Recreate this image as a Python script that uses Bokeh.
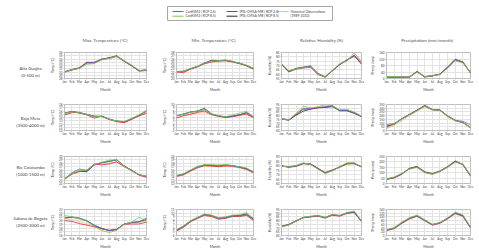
from bokeh.plotting import figure
from bokeh.layouts import row, column
from bokeh.models import Range1d, FixedTicker, Label
from bokeh.core.properties import value
from bokeh.embed import file_html
from bokeh.resources import INLINE

FONT = "Lato"
TEXT = "#404040"
GRID = "#e3e3e3"
FRAME = "#bfbfbf"

months = ["Jan", "Feb", "Mar", "Apr", "May", "Jun", "Jul", "Aug", "Sep", "Oct", "Nov", "Dec"]
scenarios = ["CanESM2 ( RCP 2.6)", "CanESM2 ( RCP 8.5)",
             "IPSL-CM5A-MR ( RCP 2.6)", "IPSL-CM5A-MR ( RCP 8.5)",
             "Historical Observations"]
hist_period = "(1989-2010)"
colors = ["#4f6fd6", "#77cc44", "#e8202a", "#262626", "#f7b98b"]
variables = ["Max. Temperature (\u00b0C)", "Min. Temperature (\u00b0C)",
             "Relative Humidity (%)", "Precipitation (mm/month)"]
y_labels = ["Temp (\u00b0C)", "Temp (\u00b0C)", "Humidity (%)", "Precip (mm)"]

# ---- Alta Guajira (0-500 m) ----
ag_tmax_can26 = [30.0, 30.6, 31.2, 32.8, 32.9, 33.9, 34.2, 34.8, 33.4, 32.0, 30.4, 30.7]
ag_tmax_can85 = [29.9, 30.7, 31.1, 32.4, 32.6, 33.8, 34.2, 34.9, 33.5, 32.1, 30.5, 30.6]
ag_tmax_ipsl26 = [30.1, 30.8, 31.3, 33.0, 33.0, 34.0, 34.3, 34.9, 33.3, 31.9, 30.3, 30.5]
ag_tmax_ipsl85 = [30.0, 30.7, 31.2, 32.9, 32.8, 33.9, 34.4, 35.0, 33.4, 32.0, 30.4, 30.6]
ag_tmax_hist = [29.8, 30.6, 31.3, 32.7, 32.9, 33.7, 34.1, 34.7, 33.2, 31.8, 30.2, 30.4]
ag_tmax_ticks = [28, 29, 30, 31, 32, 33, 34, 35, 36]

ag_tmin_can26 = [22.1, 22.3, 23.0, 23.7, 24.7, 25.2, 25.4, 25.6, 25.2, 24.7, 24.0, 23.0]
ag_tmin_can85 = [22.2, 22.2, 23.1, 23.8, 24.8, 25.3, 25.5, 25.7, 25.3, 24.7, 24.1, 23.1]
ag_tmin_ipsl26 = [22.0, 21.8, 22.9, 23.6, 24.6, 25.1, 25.4, 25.5, 25.1, 24.6, 23.9, 22.9]
ag_tmin_ipsl85 = [22.1, 22.2, 23.0, 23.7, 24.8, 25.6, 25.5, 25.6, 25.2, 24.7, 24.0, 23.1]
ag_tmin_hist = [21.9, 22.0, 22.8, 23.5, 24.5, 25.0, 25.0, 25.3, 25.0, 24.5, 23.8, 22.7]
ag_tmin_ticks = [20, 21, 22, 23, 24, 25, 26, 27, 28]

ag_rh_can26 = [71.5, 63.4, 66.3, 67.8, 69.8, 60.5, 56.8, 64.1, 71.5, 76.2, 81.7, 74.4]
ag_rh_can85 = [72.0, 64.0, 66.0, 67.5, 68.5, 60.0, 56.5, 64.5, 72.0, 75.0, 84.5, 75.0]
ag_rh_ipsl26 = [71.0, 62.5, 65.8, 67.0, 68.0, 59.5, 57.0, 64.0, 71.0, 76.5, 80.5, 72.5]
ag_rh_ipsl85 = [71.8, 63.0, 66.5, 68.0, 68.9, 60.8, 56.5, 63.8, 71.0, 76.0, 81.5, 71.5]
ag_rh_hist = [71.2, 63.8, 66.8, 68.3, 68.6, 61.0, 57.5, 64.6, 71.8, 76.8, 82.2, 73.8]
ag_rh_ticks = [55, 60, 65, 70, 75, 80, 85]

ag_pr_can26 = [10, 8, 8, 8, 42, 10, 16, 26, 68, 115, 99, 35]
ag_pr_can85 = [12, 11, 10, 9, 38, 12, 18, 24, 62, 108, 96, 38]
ag_pr_ipsl26 = [9, 7, 7, 9, 44, 9, 15, 27, 70, 118, 101, 33]
ag_pr_ipsl85 = [10, 8, 9, 8, 41, 11, 17, 26, 67, 116, 102, 36]
ag_pr_hist = [11, 9, 8, 10, 46, 13, 19, 28, 72, 120, 97, 34]
ag_pr_ticks = [0, 40, 80, 120, 160]

# ---- Bajo Meta (3500-4000 m) ----
bm_tmax_can26 = [15.3, 15.9, 15.5, 15.0, 14.4, 14.4, 13.5, 12.9, 12.7, 13.6, 14.7, 16.2]
bm_tmax_can85 = [15.2, 15.8, 15.4, 14.9, 14.3, 14.3, 13.4, 12.9, 12.8, 13.7, 14.8, 16.0]
bm_tmax_ipsl26 = [14.7, 15.5, 15.6, 14.8, 13.8, 14.5, 13.4, 12.7, 12.4, 13.4, 14.5, 15.3]
bm_tmax_ipsl85 = [15.3, 15.9, 15.4, 14.9, 14.4, 14.3, 13.5, 12.9, 12.6, 13.6, 14.7, 15.9]
bm_tmax_hist = [15.1, 15.7, 15.3, 14.8, 14.2, 14.2, 13.3, 12.8, 12.6, 13.5, 14.5, 15.3]
bm_tmax_ticks = [10, 11, 12, 13, 14, 15, 16, 17, 18]

bm_tmin_can26 = [6.5, 7.0, 7.6, 7.9, 8.5, 7.0, 6.5, 6.1, 6.4, 6.8, 7.5, 6.1]
bm_tmin_can85 = [6.6, 7.0, 7.6, 8.0, 8.4, 7.1, 6.6, 6.2, 6.8, 7.3, 7.9, 6.2]
bm_tmin_ipsl26 = [5.8, 6.6, 7.0, 7.6, 8.0, 6.9, 6.4, 6.0, 6.3, 6.7, 7.0, 6.0]
bm_tmin_ipsl85 = [6.5, 7.1, 7.7, 8.0, 8.8, 7.1, 6.5, 6.2, 6.4, 6.8, 7.5, 6.2]
bm_tmin_hist = [5.8, 6.4, 7.0, 7.3, 7.5, 6.8, 6.3, 5.9, 6.2, 6.6, 7.2, 5.9]
bm_tmin_ticks = [2, 3, 4, 5, 6, 7, 8, 9, 10]

bm_rh_can26 = [75.8, 74.0, 82.0, 89.8, 89.8, 91.0, 91.8, 92.6, 87.0, 87.0, 83.8, 79.0]
bm_rh_can85 = [76.0, 74.5, 83.0, 92.6, 90.5, 92.0, 94.5, 93.0, 88.0, 88.5, 85.0, 79.5]
bm_rh_ipsl26 = [75.5, 73.8, 81.0, 88.5, 89.0, 90.8, 91.5, 93.8, 86.5, 86.5, 83.0, 78.5]
bm_rh_ipsl85 = [75.9, 74.2, 80.5, 86.0, 88.8, 90.5, 91.0, 92.0, 86.8, 86.8, 83.5, 78.8]
bm_rh_hist = [75.6, 74.1, 82.5, 89.0, 89.5, 90.6, 92.2, 93.2, 87.5, 87.2, 84.2, 79.2]
bm_rh_ticks = [60, 65, 70, 75, 80, 85, 90, 95]

bm_pr_can26 = [78, 95, 156, 214, 272, 330, 280, 272, 194, 136, 124, 78]
bm_pr_can85 = [30, 90, 150, 210, 265, 325, 282, 270, 190, 132, 110, 40]
bm_pr_ipsl26 = [58, 86, 160, 218, 275, 340, 285, 278, 196, 138, 109, 39]
bm_pr_ipsl85 = [55, 84, 156, 214, 270, 332, 280, 272, 194, 134, 108, 42]
bm_pr_hist = [25, 70, 130, 200, 260, 320, 278, 268, 188, 130, 100, 30]
bm_pr_ticks = [0, 50, 100, 150, 200, 250, 300, 350]

# ---- Rio Catatumbo (1000-1500 m) ----
rc_tmax_can26 = [23.3, 25.2, 26.3, 25.9, 27.5, 28.1, 28.5, 29.0, 27.2, 25.9, 24.6, 24.2]
rc_tmax_can85 = [23.3, 24.9, 25.8, 26.0, 27.6, 28.3, 28.9, 29.1, 27.1, 25.8, 24.5, 24.2]
rc_tmax_ipsl26 = [23.2, 24.8, 25.6, 25.8, 27.8, 27.5, 27.8, 28.4, 27.0, 25.8, 24.5, 23.8]
rc_tmax_ipsl85 = [23.4, 24.9, 25.7, 25.5, 27.5, 28.2, 28.6, 29.0, 27.2, 25.9, 24.6, 24.1]
rc_tmax_hist = [23.2, 24.8, 25.5, 25.9, 27.8, 27.8, 28.0, 28.4, 27.1, 25.9, 24.5, 24.0]
rc_tmax_ticks = [22, 23, 24, 25, 26, 27, 28, 29, 30]

rc_tmin_can26 = [14.3, 14.8, 15.9, 16.9, 17.4, 17.4, 17.2, 17.4, 17.2, 16.9, 16.4, 15.4]
rc_tmin_can85 = [14.4, 14.9, 16.0, 17.0, 17.6, 17.6, 17.5, 17.6, 17.3, 17.0, 16.6, 15.5]
rc_tmin_ipsl26 = [14.1, 14.6, 15.7, 16.7, 17.3, 17.2, 17.0, 17.2, 17.1, 16.8, 16.2, 15.2]
rc_tmin_ipsl85 = [14.3, 14.8, 15.9, 17.0, 17.5, 17.3, 17.2, 17.5, 17.3, 16.9, 16.4, 15.4]
rc_tmin_hist = [14.0, 14.5, 15.6, 16.6, 17.1, 17.1, 16.9, 17.1, 16.9, 16.6, 16.1, 15.0]
rc_tmin_ticks = [12, 13, 14, 15, 16, 17, 18, 19, 20]

rc_rh_can26 = [79.4, 78.4, 79.4, 82.3, 81.3, 76.5, 71.6, 74.5, 78.4, 82.3, 82.3, 78.4]
rc_rh_can85 = [79.0, 78.8, 80.0, 83.0, 81.0, 76.0, 71.0, 74.0, 78.8, 83.0, 83.2, 78.0]
rc_rh_ipsl26 = [79.8, 78.0, 79.0, 82.0, 81.8, 77.0, 72.2, 75.0, 78.0, 81.8, 82.0, 78.8]
rc_rh_ipsl85 = [79.2, 78.5, 79.6, 82.5, 81.5, 76.8, 71.8, 74.8, 78.6, 82.0, 82.5, 78.6]
rc_rh_hist = [79.6, 78.2, 79.2, 82.1, 81.0, 76.2, 71.4, 74.2, 78.1, 82.6, 82.0, 78.2]
rc_rh_ticks = [60, 65, 70, 75, 80, 85, 90]

rc_pr_can26 = [40, 56, 89, 137, 153, 105, 89, 113, 153, 202, 177, 73]
rc_pr_can85 = [45, 60, 95, 132, 148, 100, 85, 110, 150, 196, 182, 78]
rc_pr_ipsl26 = [38, 52, 86, 140, 158, 108, 92, 116, 156, 208, 174, 70]
rc_pr_ipsl85 = [42, 55, 90, 138, 155, 104, 88, 112, 152, 204, 178, 74]
rc_pr_hist = [36, 50, 84, 142, 160, 110, 94, 118, 160, 210, 172, 68]
rc_pr_ticks = [0, 50, 100, 150, 200, 250]

# ---- Sabana de Bogota (2500-3000 m) ----
sb_tmax_can26 = [20.8, 21.0, 20.7, 20.0, 18.8, 17.9, 17.3, 17.6, 19.1, 19.5, 19.7, 20.7]
sb_tmax_can85 = [21.4, 21.0, 20.5, 19.8, 18.5, 17.3, 16.8, 17.4, 19.0, 19.6, 20.9, 20.0]
sb_tmax_ipsl26 = [20.0, 19.8, 19.2, 18.8, 18.3, 17.8, 17.4, 17.7, 19.0, 19.1, 19.1, 19.6]
sb_tmax_ipsl85 = [20.7, 20.9, 20.6, 19.9, 18.7, 17.9, 17.3, 17.6, 19.1, 19.5, 19.7, 20.3]
sb_tmax_hist = [20.5, 20.3, 19.8, 19.2, 18.6, 17.8, 17.4, 17.7, 19.0, 19.4, 19.6, 19.8]
sb_tmax_ticks = [16, 17, 18, 19, 20, 21, 22, 23]

sb_tmin_can26 = [5.4, 6.4, 7.9, 8.8, 9.6, 9.3, 8.6, 8.8, 9.3, 9.3, 9.6, 8.3]
sb_tmin_can85 = [5.6, 6.6, 8.0, 8.9, 9.8, 9.5, 8.8, 9.0, 9.5, 9.6, 10.2, 8.6]
sb_tmin_ipsl26 = [5.2, 6.2, 7.7, 8.6, 9.4, 9.1, 8.4, 8.6, 9.1, 9.1, 9.4, 8.0]
sb_tmin_ipsl85 = [5.4, 6.5, 7.9, 8.8, 9.7, 9.4, 8.7, 8.9, 9.3, 9.4, 9.8, 8.4]
sb_tmin_hist = [5.3, 6.3, 7.8, 8.7, 9.5, 9.2, 8.5, 8.7, 9.2, 9.2, 9.5, 8.2]
sb_tmin_ticks = [4, 5, 6, 7, 8, 9, 10, 11]

sb_rh_can26 = [72.0, 74.5, 79.3, 84.1, 85.3, 86.6, 84.1, 87.8, 86.6, 90.2, 91.4, 79.3]
sb_rh_can85 = [71.5, 74.0, 79.0, 84.5, 86.0, 87.0, 84.5, 88.5, 87.0, 91.0, 93.0, 80.0]
sb_rh_ipsl26 = [72.5, 75.0, 79.8, 83.8, 85.0, 86.0, 83.5, 87.2, 86.0, 89.8, 90.8, 78.8]
sb_rh_ipsl85 = [72.2, 74.6, 79.5, 84.3, 85.5, 86.8, 84.2, 88.0, 86.8, 90.5, 91.6, 79.5]
sb_rh_hist = [71.8, 74.2, 79.0, 83.9, 85.1, 86.3, 83.8, 87.5, 86.4, 90.0, 91.2, 79.0]
sb_rh_ticks = [60, 65, 70, 75, 80, 85, 90, 95]

sb_pr_can26 = [29, 39, 68, 92, 106, 82, 58, 68, 92, 121, 106, 43]
sb_pr_can85 = [32, 42, 72, 96, 110, 85, 60, 70, 95, 126, 112, 46]
sb_pr_ipsl26 = [27, 37, 65, 90, 104, 80, 56, 66, 90, 118, 104, 41]
sb_pr_ipsl85 = [30, 40, 69, 93, 107, 83, 59, 69, 93, 122, 107, 44]
sb_pr_hist = [26, 36, 64, 88, 102, 78, 55, 65, 89, 117, 102, 40]
sb_pr_ticks = [0, 20, 40, 60, 80, 100, 120, 140]

regions = [
    ("Alta Guajira", "(0-500 m)",
     [[ag_tmax_can26, ag_tmax_can85, ag_tmax_ipsl26, ag_tmax_ipsl85, ag_tmax_hist],
      [ag_tmin_can26, ag_tmin_can85, ag_tmin_ipsl26, ag_tmin_ipsl85, ag_tmin_hist],
      [ag_rh_can26, ag_rh_can85, ag_rh_ipsl26, ag_rh_ipsl85, ag_rh_hist],
      [ag_pr_can26, ag_pr_can85, ag_pr_ipsl26, ag_pr_ipsl85, ag_pr_hist]],
     [ag_tmax_ticks, ag_tmin_ticks, ag_rh_ticks, ag_pr_ticks]),
    ("Bajo Meta", "(3500-4000 m)",
     [[bm_tmax_can26, bm_tmax_can85, bm_tmax_ipsl26, bm_tmax_ipsl85, bm_tmax_hist],
      [bm_tmin_can26, bm_tmin_can85, bm_tmin_ipsl26, bm_tmin_ipsl85, bm_tmin_hist],
      [bm_rh_can26, bm_rh_can85, bm_rh_ipsl26, bm_rh_ipsl85, bm_rh_hist],
      [bm_pr_can26, bm_pr_can85, bm_pr_ipsl26, bm_pr_ipsl85, bm_pr_hist]],
     [bm_tmax_ticks, bm_tmin_ticks, bm_rh_ticks, bm_pr_ticks]),
    ("Rio Catatumbo", "(1000-1500 m)",
     [[rc_tmax_can26, rc_tmax_can85, rc_tmax_ipsl26, rc_tmax_ipsl85, rc_tmax_hist],
      [rc_tmin_can26, rc_tmin_can85, rc_tmin_ipsl26, rc_tmin_ipsl85, rc_tmin_hist],
      [rc_rh_can26, rc_rh_can85, rc_rh_ipsl26, rc_rh_ipsl85, rc_rh_hist],
      [rc_pr_can26, rc_pr_can85, rc_pr_ipsl26, rc_pr_ipsl85, rc_pr_hist]],
     [rc_tmax_ticks, rc_tmin_ticks, rc_rh_ticks, rc_pr_ticks]),
    ("Sabana de Bogota", "(2500-3000 m)",
     [[sb_tmax_can26, sb_tmax_can85, sb_tmax_ipsl26, sb_tmax_ipsl85, sb_tmax_hist],
      [sb_tmin_can26, sb_tmin_can85, sb_tmin_ipsl26, sb_tmin_ipsl85, sb_tmin_hist],
      [sb_rh_can26, sb_rh_can85, sb_rh_ipsl26, sb_rh_ipsl85, sb_rh_hist],
      [sb_pr_can26, sb_pr_can85, sb_pr_ipsl26, sb_pr_ipsl85, sb_pr_hist]],
     [sb_tmax_ticks, sb_tmin_ticks, sb_rh_ticks, sb_pr_ticks]),
]

# layout geometry (pixels)
LABEL_W = 48
HEADER_H = 45
col_w = [112, 105, 103, 111]
col_left = [15, 13, 16, 15]
col_right = [14, 12, 7, 9]
row_h = [50, 52, 53, 52]
row_top = [7, 9, 9, 9]
row_bottom = [16, 14, 13, 14]

month_pos = list(range(len(months)))


def make_panel(series, ticks, ylabel, r, c):
    p = figure(width=col_w[c], height=row_h[r], output_backend="svg", toolbar_location=None,
               x_range=Range1d(month_pos[0], month_pos[-1]),
               y_range=Range1d(ticks[0], ticks[-1]),
               min_border_left=col_left[c], min_border_right=col_right[c],
               min_border_top=row_top[r], min_border_bottom=row_bottom[r])
    p.background_fill_color = "white"
    p.border_fill_color = "white"
    p.outline_line_color = FRAME
    # observations underneath, then the model runs
    for k in [4, 3, 2, 0, 1]:
        p.line(month_pos, series[k], line_color=colors[k], line_width=0.8)

    p.xaxis.ticker = FixedTicker(ticks=month_pos)
    p.xaxis.major_label_overrides = {i: m for i, m in enumerate(months)}
    p.xaxis.axis_label = "Month"
    p.yaxis.ticker = FixedTicker(ticks=ticks)
    p.yaxis.axis_label = ylabel
    for ax in (p.xaxis[0], p.yaxis[0]):
        ax.major_label_text_font = FONT
        ax.major_label_text_font_size = "3px"
        ax.major_label_text_color = TEXT
        ax.axis_label_text_font = FONT
        ax.axis_label_text_font_size = "3.5px"
        ax.axis_label_text_font_style = "normal"
        ax.axis_label_text_color = TEXT
        ax.axis_label_standoff = 1
        ax.major_label_standoff = 1
        ax.major_tick_out = 1
        ax.major_tick_in = 0
        ax.minor_tick_line_color = None
        ax.axis_line_color = FRAME
        ax.major_tick_line_color = FRAME
    p.grid.grid_line_color = GRID
    p.grid.grid_line_width = 1
    return p


# header strip: legend box and the column headings, laid out in page pixels
head = figure(width=479, height=HEADER_H, output_backend="svg", toolbar_location=None,
              x_range=Range1d(0, 479), y_range=Range1d(HEADER_H, 0),
              min_border=0, x_axis_type=None, y_axis_type=None)
head.outline_line_color = None
head.grid.visible = False
head.quad(left=[167], right=[332], top=[6], bottom=[20], fill_color="white",
          line_color="#a6a6a6", line_width=1)
key_x0 = [172, 172, 226, 226, 277]
key_y = [11, 15.7, 11, 15.7, 11]
key_len = 11
head.segment(x0=key_x0, x1=[x + key_len for x in key_x0], y0=key_y, y1=key_y,
             line_color=colors, line_width=1)
head.text(x=[x + key_len + 2 for x in key_x0] + [key_x0[4] + key_len + 2],
          y=key_y + [15.7], text=scenarios + [hist_period],
          text_font=value(FONT), text_font_size="3.4px", text_color=TEXT,
          text_baseline="middle", text_align="left")

# column headings centred over each column's plot frame
frame_centres = []
x0 = LABEL_W
for c in range(4):
    left = x0 + col_left[c]
    right = x0 + col_w[c] - col_right[c]
    frame_centres.append((left + right) / 2)
    x0 += col_w[c]
head.text(x=frame_centres, y=[39] * 4, text=variables,
          text_font=value(FONT), text_font_size="4.6px", text_color="#505050",
          text_baseline="middle", text_align="center")

# region names down the left side
names = figure(width=LABEL_W, height=sum(row_h), output_backend="svg", toolbar_location=None,
               x_range=Range1d(0, LABEL_W), y_range=Range1d(HEADER_H + sum(row_h), HEADER_H),
               min_border=0, x_axis_type=None, y_axis_type=None)
names.outline_line_color = None
names.grid.visible = False
name_y = [(67.5, 75), (118, 124.5), (167, 173.5), (218, 224.5)]
for (n1, n2, _, _), (y1, y2) in zip(regions, name_y):
    for txt, yy in ((n1, y1), (n2, y2)):
        names.add_layout(Label(x=30, y=yy, text=txt, text_align="center", text_baseline="middle",
                               text_font=FONT, text_font_size="4.3px", text_color=TEXT))

rows = []
for r, (n1, n2, panels, ticks_list) in enumerate(regions):
    rows.append(row(*[make_panel(panels[c], ticks_list[c], y_labels[c], r, c) for c in range(4)]))

layout = column(head, row(names, column(*rows)))

open("out.html", "w").write(file_html(layout, INLINE))
